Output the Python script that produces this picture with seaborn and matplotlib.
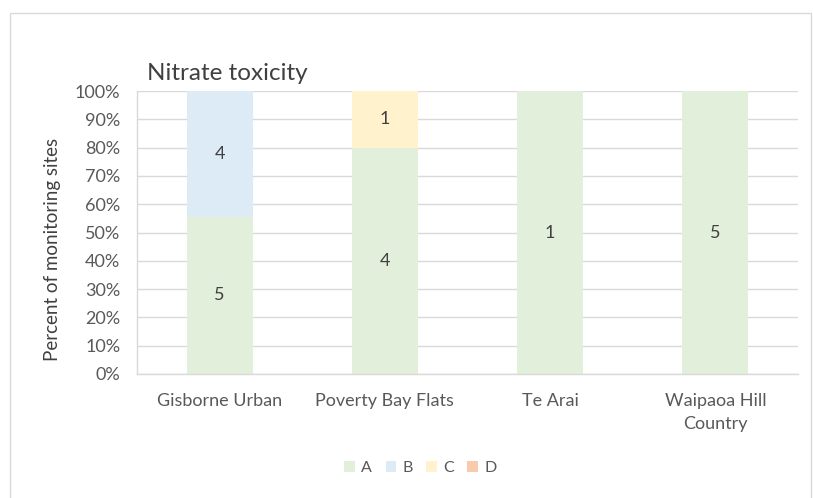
import numpy as np
import pandas as pd
import matplotlib
matplotlib.use('Agg')
import matplotlib.pyplot as plt
import seaborn as sns
from matplotlib.patches import Rectangle, Patch
from matplotlib.ticker import PercentFormatter

# data: site counts per grade
regiones = ['Gisborne Urban', 'Poverty Bay Flats', 'Te Arai', 'Waipaoa Hill\nCountry']
grados = ['A', 'B', 'C', 'D']
cnt_A = [5, 4, 1, 5]
cnt_B = [4, 0, 0, 0]
cnt_C = [0, 1, 0, 0]
cnt_D = [0, 0, 0, 0]
colores = ['#E2EFDA', '#DDEBF7', '#FFF2CC', '#F8CBAD']

sns.set_theme(style='white')
plt.rcParams['font.family'] = ['Lato', 'DejaVu Sans']

df = pd.DataFrame({'region': regiones, 'A': cnt_A, 'B': cnt_B, 'C': cnt_C, 'D': cnt_D})
tot = df[grados].sum(axis=1)
pct = df[grados].div(tot, axis=0) * 100
cum = pct.cumsum(axis=1)

fig = plt.figure(figsize=(8.13, 4.98), dpi=100)
ax = fig.add_axes([0.1685, 0.249, 0.813, 0.568])

# stacked bars: draw tallest cumulative first
for g, c in reversed(list(zip(grados, colores))):
    sns.barplot(x=df['region'], y=cum[g], color=c, width=0.4, ax=ax,
                saturation=1, linewidth=0, zorder=2)

# etiquetas de valores
for i in range(len(regiones)):
    base = 0
    for g in grados:
        v = df.loc[i, g]
        h = pct.loc[i, g]
        if v > 0:
            ax.text(i, base + h / 2, str(v), ha='center', va='center',
                    fontsize=13, color='#404040', zorder=3)
        base += h

ax.set_ylim(0, 100)
ax.set_xlim(-0.5, len(regiones) - 0.5)
ax.set_yticks(np.arange(0, 101, 10))
ax.yaxis.set_major_formatter(PercentFormatter(decimals=0))
ax.yaxis.grid(True, color='#D9D9D9', linewidth=1, zorder=0)
ax.set_axisbelow(True)
for s in ['top', 'right']:
    ax.spines[s].set_visible(False)
for s in ['left', 'bottom']:
    ax.spines[s].set_color('#D9D9D9')
    ax.spines[s].set_linewidth(1)
ax.tick_params(axis='both', length=0, labelsize=13, colors='#595959')
ax.tick_params(axis='y', pad=12)
ax.tick_params(axis='x', pad=14)
for t in ax.get_xticklabels():
    t.set_linespacing(1.5)
ax.set_xlabel('')
ax.set_ylabel('Percent of monitoring sites', fontsize=13.5, color='#404040')
ax.yaxis.set_label_coords(-0.115, 0.44)
ax.set_title('Nitrate toxicity', loc='left', fontsize=17.5, color='#404040',
             x=0.015, pad=8)

handles = [Patch(facecolor=c, edgecolor='none') for c in colores]
fig.legend(handles, grados, loc='center', bbox_to_anchor=(0.517, 0.06), ncol=4,
           frameon=False, fontsize=11.5, handlelength=0.65, handleheight=0.65,
           handletextpad=0.4, columnspacing=0.85, labelcolor='#595959')

# chart border
fig.patches.append(Rectangle((10 / 813, -0.1), 801 / 813, 1.1 - 13 / 498,
                             transform=fig.transFigure, fill=False,
                             edgecolor='#D9D9D9', linewidth=1))

fig.savefig('out.png', dpi=100)
